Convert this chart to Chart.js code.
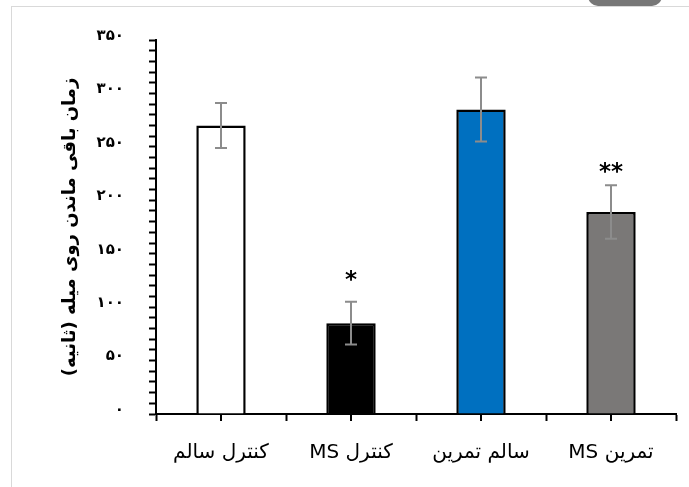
<!DOCTYPE html>
<html>
<head>
<meta charset="utf-8">
<script src="https://cdn.jsdelivr.net/npm/chart.js@4"></script>
<style>
  html, body { margin: 0; padding: 0; background: #fff; }
  #wrap { position: relative; width: 689px; height: 487px; overflow: hidden; }
  #frame { position: absolute; left: 11px; top: 6px; right: -5px; bottom: -5px;
           border-top: 1px solid #d9d9d9; border-left: 1px solid #d9d9d9; }
  #corner { position: absolute; left: 588px; top: -14px; width: 74px; height: 20px;
            border-radius: 10px; background: #777; }
  canvas { position: absolute; left: 0; top: 0; }
</style>
</head>
<body>
<div id="wrap">
  <div id="frame"></div>
  <div id="corner"></div>
  <canvas id="myChart" width="689" height="487" dir="rtl"></canvas>
</div>
<script>
const groups = ['کنترل سالم', 'کنترل MS', 'سالم تمرین', 'تمرین MS'];
const means = [270, 85, 285, 189];
const errors = [21, 20, 30, 25];
const barColors = ['#ffffff', '#000000', '#0070c0', '#7a7877'];
const marks = ['', '*', '', '**'];
const markLevels = [null, 129, null, 230];
const yTicks = [0, 50, 100, 150, 200, 250, 300, 350];
const yTitle = 'زمان باقی ماندن روی میله (ثانیه)';

function toPersian(n) {
    return String(n).replace(/\d/g, d => '۰۱۲۳۴۵۶۷۸۹'[d]);
}

const extras = {
    id: 'extras',
    afterDatasetsDraw(chart) {
        const ctx = chart.ctx;
        const x = chart.scales.x;
        const y = chart.scales.y;
        ctx.save();

        // ticks under each bar centre
        ctx.strokeStyle = '#000';
        ctx.lineWidth = 2;
        groups.forEach((g, i) => {
            const px = x.getPixelForValue(i);
            ctx.beginPath();
            ctx.moveTo(px, y.bottom);
            ctx.lineTo(px, y.bottom + 7);
            ctx.stroke();
        });

        // error bars
        ctx.strokeStyle = '#8c8c8c';
        means.forEach((m, i) => {
            const px = x.getPixelForValue(i);
            const hi = y.getPixelForValue(m + errors[i]);
            const lo = y.getPixelForValue(m - errors[i]);
            ctx.beginPath();
            ctx.moveTo(px, hi); ctx.lineTo(px, lo);
            ctx.moveTo(px - 6, hi); ctx.lineTo(px + 6, hi);
            ctx.moveTo(px - 6, lo); ctx.lineTo(px + 6, lo);
            ctx.stroke();
        });

        // significance stars
        ctx.fillStyle = '#000';
        ctx.font = 'bold 23px "DejaVu Sans"';
        ctx.textAlign = 'center';
        ctx.textBaseline = 'middle';
        marks.forEach((s, i) => {
            if (!s) return;
            ctx.fillText(s, x.getPixelForValue(i), y.getPixelForValue(markLevels[i]) + 5);
        });
        ctx.restore();
    }
};

const ctx = document.getElementById('myChart').getContext('2d');
const myChart = new Chart(ctx, {
    type: 'bar',
    data: {
        labels: groups,
        datasets: [{
            data: means,
            backgroundColor: barColors,
            borderColor: '#000',
            borderWidth: 2.5,
            barPercentage: 0.38,
            categoryPercentage: 1
        }]
    },
    options: {
        responsive: false,
        animation: false,
        layout: {
            padding: { left: 11, top: 40, right: 13, bottom: 0 }
        },
        plugins: {
            legend: { display: false },
            tooltip: { enabled: false }
        },
        scales: {
            x: {
                offset: true,
                grid: {
                    offset: true,
                    drawOnChartArea: false,
                    tickLength: 7,
                    tickWidth: 2,
                    tickColor: '#000'
                },
                border: { color: '#000', width: 2 },
                ticks: {
                    padding: 20,
                    color: '#000',
                    font: { family: '"DejaVu Sans"', size: 20 }
                },
                afterFit(scale) { scale.height = 73; }
            },
            y: {
                min: 0,
                max: 350,
                ticks: {
                    stepSize: 10,
                    autoSkip: false,
                    padding: 25,
                    labelOffset: -4,
                    color: '#000',
                    font: { family: '"DejaVu Sans"', size: 15, weight: 'bold' },
                    callback: v => yTicks.includes(v) ? toPersian(v) : ''
                },
                grid: {
                    drawOnChartArea: false,
                    tickLength: 7,
                    tickWidth: 2,
                    tickColor: '#000'
                },
                border: { color: '#000', width: 2 },
                title: {
                    display: true,
                    text: yTitle,
                    color: '#000',
                    padding: { top: 49, bottom: 0 },
                    font: { family: '"DejaVu Sans"', size: 18, weight: 'bold' }
                },
                afterFit(scale) { scale.width = 145; }
            }
        }
    },
    plugins: [extras]
});
</script>
</body>
</html>
